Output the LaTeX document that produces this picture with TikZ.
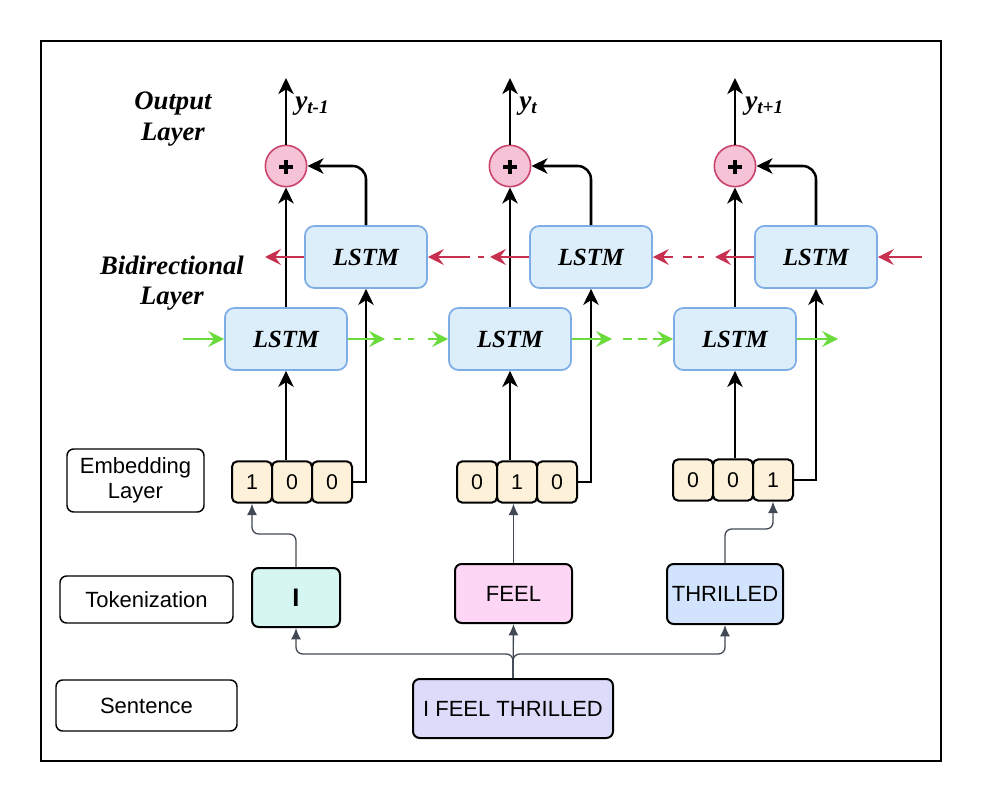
\documentclass[tikz,border=0pt]{standalone}
\usepackage{fontspec}
\setmainfont{Liberation Sans}
\newfontfamily\tnr{Liberation Serif}
\usetikzlibrary{arrows.meta,calc}
\definecolor{lstmfill}{HTML}{DDEEFB}
\definecolor{lstmdraw}{HTML}{7EADE6}
\definecolor{redarr}{HTML}{C8304F}
\definecolor{greenarr}{HTML}{6ADB3A}
\definecolor{plusfill}{HTML}{F6C3D6}
\definecolor{plusdraw}{HTML}{C9436A}
\definecolor{cellfill}{HTML}{FDF1DA}
\definecolor{ifill}{HTML}{D6F7F1}
\definecolor{feelfill}{HTML}{FDD5F5}
\definecolor{thrfill}{HTML}{D2E4FD}
\definecolor{sentfill}{HTML}{DCDCFA}
\definecolor{connc}{HTML}{424955}
\begin{document}
\begin{tikzpicture}[x=0.75pt,y=-0.75pt,
  lstm/.style={draw=lstmdraw,fill=lstmfill,line width=1.3pt,rounded corners=7pt,
    minimum width=91.5pt,minimum height=46.5pt,inner sep=0pt,
    font=\tnr\bfseries\itshape\fontsize{18.5}{20}\selectfont},
  plus/.style={circle,draw=plusdraw,fill=plusfill,line width=1.2pt,minimum size=31pt,inner sep=0pt},
  plussign/.style={line width=3pt,draw=black},
  cell/.style={draw=black,fill=cellfill,line width=1.5pt,rounded corners=4pt,
    minimum width=30pt,minimum height=31pt,inner sep=0pt,font=\fontsize{16}{18}\selectfont},
  lab/.style={draw=black,line width=1.1pt,rounded corners=5pt,inner sep=0pt,align=center,
    font=\fontsize{16.5}{19}\selectfont},
  tok/.style={draw=black,line width=1.5pt,rounded corners=5pt,inner sep=0pt,align=center,
    font=\fontsize{16.5}{19}\selectfont},
  serlab/.style={font=\tnr\bfseries\itshape\fontsize{20}{23}\selectfont,align=center,inner sep=0pt},
  ylab/.style={font=\tnr\bfseries\itshape\fontsize{20.5}{23}\selectfont,inner sep=0pt,anchor=west},
  blk/.style={draw=black,line width=1.9pt,-{Stealth[length=12pt,width=11.5pt,inset=3.5pt]}},
  ra/.style={draw=redarr,line width=1.5pt,-{Stealth[length=12pt,width=12pt,inset=4.5pt]}},
  rd/.style={draw=redarr,line width=1.5pt},
  ga/.style={draw=greenarr,line width=1.5pt,-{Stealth[length=12pt,width=12pt,inset=4.5pt]}},
  gd/.style={draw=greenarr,line width=1.5pt},
  cn/.style={draw=connc,line width=1pt,rounded corners=5pt,-{Latex[length=8.5pt,width=7.5pt]}}
]
\useasboundingbox (0,0) rectangle (982,802);
\draw[line width=1.2pt] (41,41) rectangle (941,761);

% labels top
\node[serlab] (outl) at (173,119) {Output\\Layer};
\node[serlab] (bidl) at (172,283) {Bidirectional\\Layer};

% LSTM boxes
\node[lstm] (F1) at (286,339) {LSTM};
\node[lstm] (F2) at (510,339) {LSTM};
\node[lstm] (F3) at (735,339) {LSTM};
\node[lstm] (B1) at (366,257) {LSTM};
\node[lstm] (B2) at (591,257) {LSTM};
\node[lstm] (B3) at (816,257) {LSTM};

% plus circles
\node[plus] (P1) at (286,166) {};
\node[plus] (P2) at (510,166) {};
\node[plus] (P3) at (735,166) {};
\foreach \p in {P1,P2,P3}{
  \draw[plussign] ($(\p)+(-7,1)$) -- ($(\p)+(7,1)$);
  \draw[plussign] ($(\p)+(0,-6)$) -- ($(\p)+(0,8)$);
}

% output tips
\coordinate (o1) at (286,78);
\coordinate (o2) at (510,78);
\coordinate (o3) at (735,78);
\node[ylab] (y1) at (295,106) {y\textsubscript{t-1}};
\node[ylab] (y2) at (519,106) {y\textsubscript{t}};
\node[ylab] (y3) at (745,106) {y\textsubscript{t+1}};

% embedding cells
\node[cell] (E11) at (252,482) {1};
\node[cell] (E12) at (292,482) {0};
\node[cell] (E13) at (332,482) {0};
\node[cell] (E21) at (477,482) {0};
\node[cell] (E22) at (517,482) {1};
\node[cell] (E23) at (557,482) {0};
\node[cell] (E31) at (693,480) {0};
\node[cell] (E32) at (733,480) {0};
\node[cell] (E33) at (773,480) {1};

% bottom label boxes
\node[lab,minimum width=102.75pt,minimum height=47.25pt] (embl) at (135.5,480.5) {Embedding\\Layer};
\node[lab,minimum width=129.75pt,minimum height=35.25pt] (tokl) at (146.5,599.5) {Tokenization};
\node[lab,minimum width=135.75pt,minimum height=38.25pt] (senl) at (146.5,705.5) {Sentence};

% token boxes
\node[tok,fill=ifill,minimum width=66pt,minimum height=44.25pt,font=\bfseries\fontsize{19}{20}\selectfont] (TI) at (296,597.5) {I};
\node[tok,fill=feelfill,minimum width=87.75pt,minimum height=44.25pt] (TF) at (513.5,593.5) {FEEL};
\node[tok,fill=thrfill,minimum width=87pt,minimum height=45pt] (TT) at (725,594) {THRILLED};
\node[tok,fill=sentfill,minimum width=150pt,minimum height=44.25pt] (S) at (513,708.5) {I FEEL THRILLED};

% black connectors
\draw[blk] (F1.north) -- (P1.south);
\draw[blk] (F2.north) -- (P2.south);
\draw[blk] (F3.north) -- (P3.south);
\draw[blk,rounded corners=10pt] (B1.north) |- (P1.east);
\draw[blk,rounded corners=10pt] (B2.north) |- (P2.east);
\draw[blk,rounded corners=10pt] (B3.north) |- (P3.east);
\draw[blk] (P1.north) -- (o1);
\draw[blk] (P2.north) -- (o2);
\draw[blk] (P3.north) -- (o3);
\draw[blk] (F1.south |- E12.north) -- (F1.south);
\draw[blk] (F2.south |- E22.north) -- (F2.south);
\draw[blk] (F3.south |- E32.north) -- (F3.south);
\draw[blk] (E13.east) -| (B1.south);
\draw[blk] (E23.east) -| (B2.south);
\draw[blk] (E33.east) -| (B3.south);

% red backward arrows
\coordinate (rin) at (922,257);
\coordinate (r3t) at (715,257);
\coordinate (r3a) at (704,257);
\coordinate (r3b) at (698,257);
\coordinate (r3c) at (692,257);
\coordinate (r3d) at (683,257);
\coordinate (r3s) at (673,257);
\coordinate (r2t) at (490,257);
\coordinate (r2a) at (484,257);
\coordinate (r2b) at (478,257);
\coordinate (r2s) at (470,257);
\coordinate (r1t) at (265,257);
\draw[ra] (rin) -- (B3.east);
\draw[ra] (B3.west) -- (r3t);
\draw[rd] (r3a) -- (r3b);
\draw[rd] (r3c) -- (r3d);
\draw[ra] (r3s) -- (B2.east);
\draw[ra] (B2.west) -- (r2t);
\draw[rd] (r2a) -- (r2b);
\draw[ra] (r2s) -- (B1.east);
\draw[ra] (B1.west) -- (r1t);

% green forward arrows
\coordinate (gin) at (183,339);
\coordinate (g1t) at (385,339);
\coordinate (g1a) at (394,339);
\coordinate (g1b) at (401,339);
\coordinate (g1c) at (408,339);
\coordinate (g1d) at (414,339);
\coordinate (g1s) at (428,339);
\coordinate (g2t) at (612,339);
\coordinate (g2a) at (623,339);
\coordinate (g2b) at (632,339);
\coordinate (g2c) at (638,339);
\coordinate (g2d) at (647,339);
\coordinate (g2s) at (653,339);
\coordinate (g3t) at (838,339);
\draw[ga] (gin) -- (F1.west);
\draw[ga] (F1.east) -- (g1t);
\draw[gd] (g1a) -- (g1b);
\draw[gd] (g1c) -- (g1d);
\draw[ga] (g1s) -- (F2.west);
\draw[ga] (F2.east) -- (g2t);
\draw[gd] (g2a) -- (g2b);
\draw[gd] (g2c) -- (g2d);
\draw[ga] (g2s) -- (F3.west);
\draw[ga] (F3.east) -- (g3t);

% bottom connectors
\coordinate (jn) at (513,654);
\draw[cn] (S.north) -- (jn) -| (TI.south);
\draw[cn] (S.north) -- (TF.south);
\draw[cn] (S.north) -- (jn) -| (TT.south);
\draw[cn] (TI.north) -- ++(0,-33) -| (E11.south);
\draw[cn] (TF.north) -- (TF.north |- E22.south);
\draw[cn] (TT.north) -- ++(0,-34) -| (E33.south);
\end{tikzpicture}
\end{document}
